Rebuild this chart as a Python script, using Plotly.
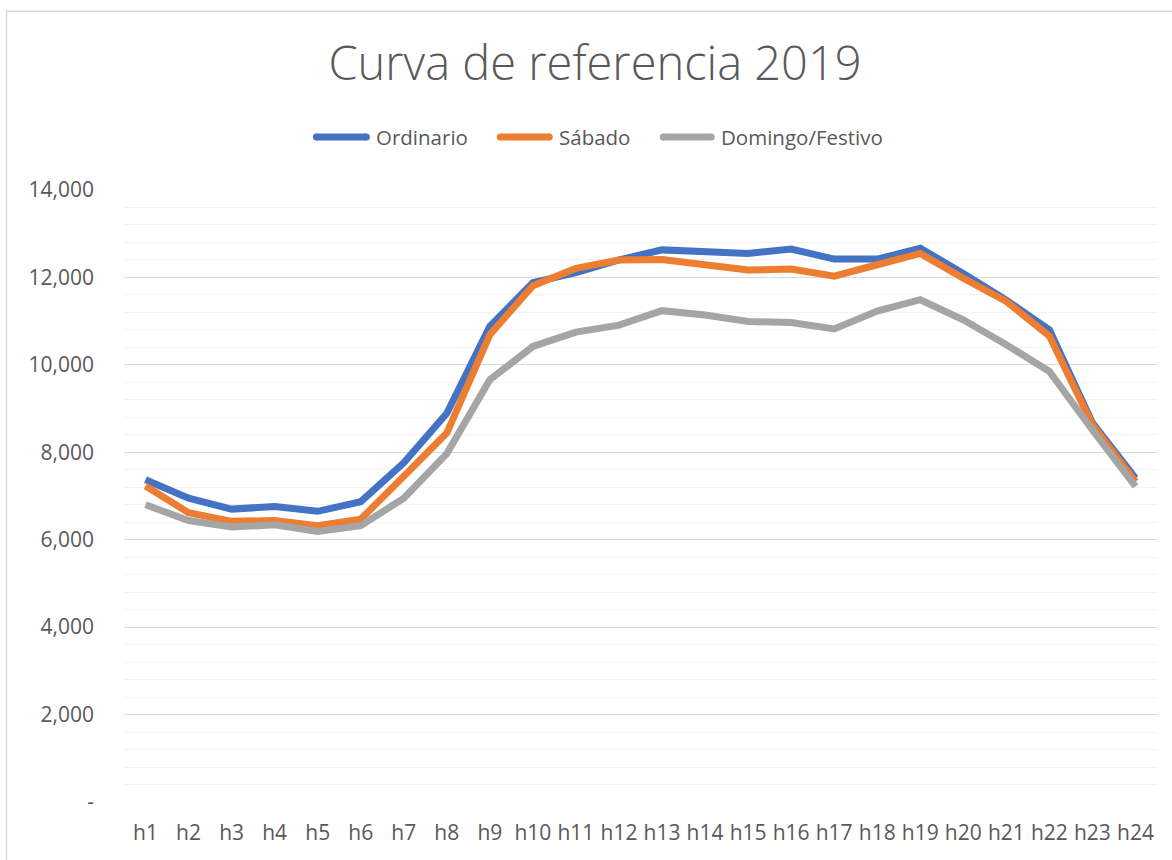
import plotly.graph_objects as go

horas = [f"h{i}" for i in range(1, 25)]
ordinario = [7370, 6950, 6700, 6760, 6650, 6870, 7760, 8890, 10880, 11880, 12110, 12400,
             12630, 12570, 12550, 12650, 12420, 12420, 12670, 12090, 11480, 10800, 8670, 7410]
sabado = [7230, 6620, 6420, 6440, 6320, 6470, 7450, 8440, 10690, 11810, 12210, 12400,
          12410, 12300, 12170, 12190, 12030, 12290, 12550, 11980, 11450, 10660, 8630, 7330]
domingo = [6800, 6440, 6290, 6340, 6190, 6320, 6950, 7970, 9660, 10420, 10750, 10910,
           11240, 11140, 10990, 10970, 10820, 11230, 11490, 11030, 10460, 9850, 8510, 7220]
y_ticks = [0, 2000, 4000, 6000, 8000, 10000, 12000, 14000]
y_ticktext = ["-", "2,000", "4,000", "6,000", "8,000", "10,000", "12,000", "14,000"]

series = [("Ordinario", ordinario, "#4472C4"),
          ("Sábado", sabado, "#ED7D31"),
          ("Domingo/Festivo", domingo, "#A5A5A5")]

W, H = 1172, 860
ml, mr, mt, mb = 124, 14.5, 190, 57.5
pw, ph = W - ml - mr, H - mt - mb


def px(x):
    return (x - ml) / pw


def py(y):
    return (H - mb - y) / ph


fig = go.Figure()
for name, vals, col in series:
    fig.add_trace(go.Scatter(x=horas, y=vals, name=name, mode="lines",
                             line=dict(color=col, width=7), showlegend=False))

fig.update_layout(
    width=W, height=H,
    margin=dict(l=ml, r=mr, t=mt, b=mb),
    paper_bgcolor="white", plot_bgcolor="white",
    font=dict(family="Open Sans, Liberation Sans, sans-serif", color="#595959"),
    title=dict(text="Curva de referencia 2019", x=595 / W, xanchor="center",
               y=1 - 64 / H, yanchor="middle",
               font=dict(size=47, color="#595959", weight=300)),
    showlegend=False,
)
fig.update_xaxes(type="category", range=[-0.5, 23.5], showgrid=False, showline=False,
                 ticks="", tickfont=dict(size=21, color="#595959"), ticklabelstandoff=16)
fig.update_yaxes(range=[0, 14000], tickvals=y_ticks, ticktext=y_ticktext,
                 showgrid=True, gridcolor="#D9D9D9", gridwidth=1.3, zeroline=False,
                 showline=False, ticks="", tickfont=dict(size=21, color="#595959"),
                 ticklabelstandoff=29,
                 minor=dict(dtick=400, tick0=0, showgrid=True, gridcolor="#F2F2F2",
                            gridwidth=1.3))

# manual legend (rounded line samples + labels)
legend_items = [(313, 370, 374), (497, 553, 557), (660, 715, 719)]
leg_y = 137
r = 3.5
for (name, _, col), (x0, x1, xt) in zip(series, legend_items):
    common = dict(xref="paper", yref="paper", xsizemode="pixel", ysizemode="pixel",
                  yanchor=py(leg_y), fillcolor=col, line=dict(width=0))
    fig.add_shape(type="rect", xanchor=px(x0), x0=r, x1=(x1 - x0) - r, y0=-r, y1=r,
                  **common)
    for cx in (x0 + r, x1 - r):
        fig.add_shape(type="circle", xanchor=px(cx), x0=-r, x1=r, y0=-r, y1=r, **common)
    fig.add_annotation(text=name, xref="paper", yref="paper", x=px(xt), y=py(leg_y),
                       xanchor="left", yanchor="middle", showarrow=False,
                       font=dict(size=20.5, color="#595959"))

# chart-area border (left and top visible, rest cropped)
fig.add_shape(type="rect", xref="paper", yref="paper",
              x0=px(6.5), x1=1.2, y0=-0.3, y1=py(11),
              line=dict(color="#D9D9D9", width=1.5), fillcolor="rgba(0,0,0,0)",
              layer="below")

fig.write_html("out.html", config={"displayModeBar": False},
               post_script="document.body.style.margin='0';document.body.style.overflow='hidden';")
